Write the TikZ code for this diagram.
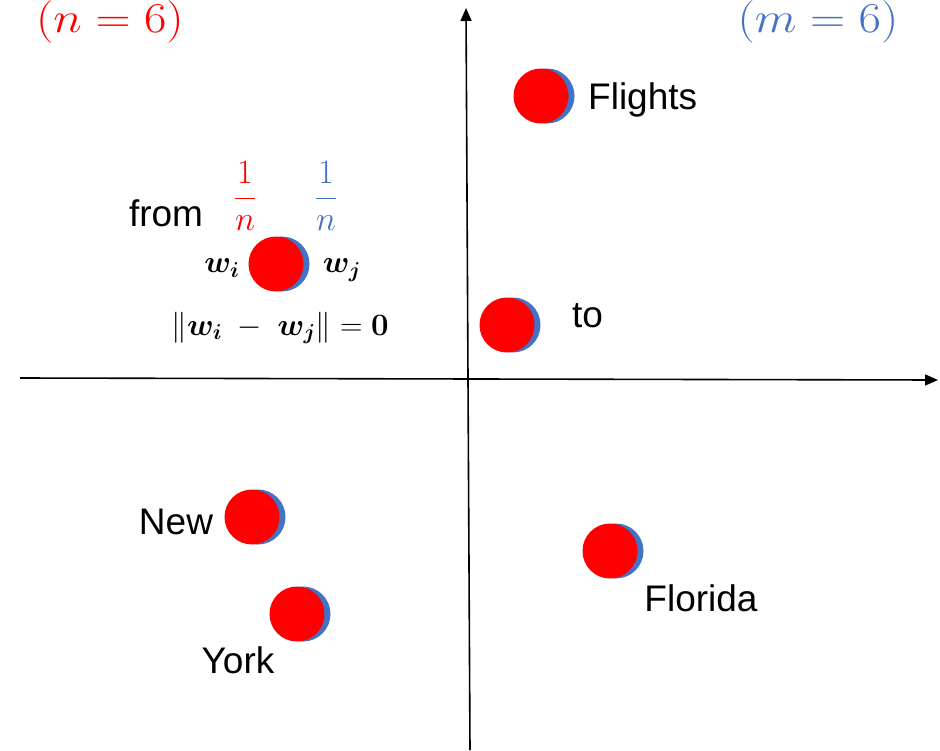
\documentclass[tikz,border=0pt]{standalone}
\usepackage[no-math]{fontspec}
\usepackage{amsmath}
\usepackage{bm}
\usepackage{graphicx}
\setmainfont{Liberation Sans}
\usetikzlibrary{arrows.meta}
\definecolor{dred}{HTML}{FF0000}
\definecolor{dblue}{HTML}{4472C4}
\tikzset{
  axis/.style={line width=1.6pt,-{Triangle[length=13pt,width=11pt]}},
  rdot/.style={circle,fill=dred,minimum size=55pt,inner sep=0pt},
  bdot/.style={circle,fill=dblue,minimum size=55pt,inner sep=0pt},
  lbl/.style={font=\fontsize{37}{42}\selectfont,inner sep=0pt},
  mlbl/.style={font=\fontsize{20}{24}\selectfont,inner sep=0pt}
}
\newcommand{\wdot}[3]{%
  \node[bdot] (#1b) at (#2+6,#3) {};
  \node[rdot] (#1) at (#2,#3) {};}
\newcommand{\mbig}[1]{\scalebox{2.35}[2.05]{#1}}
\newcommand{\mmid}[1]{\scalebox{1.5}{#1}}
\newcommand{\mfrac}[1]{\scalebox{1.65}{#1}}
\begin{document}
\begin{tikzpicture}[x=1pt,y=-1pt]
\useasboundingbox (0,0) rectangle (940,750);
\coordinate (xs) at (20,378);
\coordinate (xe) at (938,380);
\coordinate (ys) at (470,750);
\coordinate (ye) at (466,8);
\draw[axis] (xs) -- (xe);
\draw[axis] (ys) -- (ye);
\wdot{fl}{541}{96}
\wdot{fr}{276}{264}
\wdot{to}{507}{325}
\wdot{nw}{252}{517}
\wdot{yk}{297}{614}
\wdot{fd}{610}{551}
\node[mlbl,text=dred] (n6) at (110,22) {\mbig{$(n=6)$}};
\node[mlbl,text=dblue] (m6) at (818,22) {\mbig{$(m=6)$}};
\node[lbl,anchor=west] (tfl) at (588,100) {Flights};
\node[lbl,anchor=west] (tto) at (572,316) {to};
\node[lbl] (tnw) at (176,522) {New};
\node[lbl] (tyk) at (238,660) {York};
\node[lbl] (tfd) at (701,598) {Florida};
\node[lbl] (tfr) at (166,213) {from};
\node[mlbl,text=dred] (fa) at (245,196) {\mfrac{$\dfrac{1}{n}$}};
\node[mlbl,text=dblue] (fb) at (326,196) {\mfrac{$\dfrac{1}{n}$}};
\node[mlbl] (wi) at (222,268) {\mmid{$\bm{w_i}$}};
\node[mlbl] (wj) at (342,270) {\mmid{$\bm{w_j}$}};
\node[mlbl] (nrm) at (280,328) {\mmid{$\|\bm{w_i}\;-\;\bm{w_j}\|=\bm{0}$}};
\end{tikzpicture}
\end{document}
